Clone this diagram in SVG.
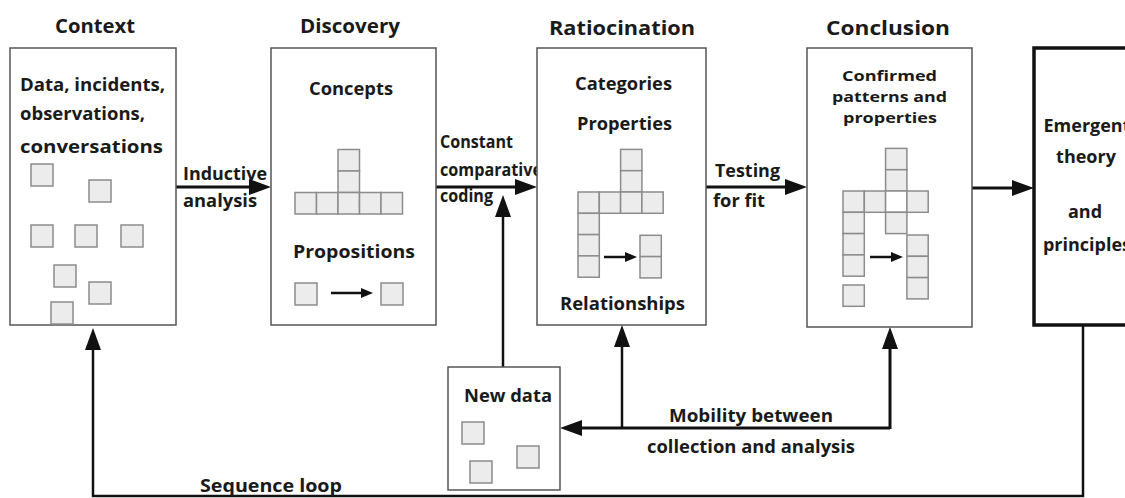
<svg xmlns="http://www.w3.org/2000/svg" width="1125" height="498" viewBox="0 0 1125 498">
<style>
.t{font-family:"Open Sans","Liberation Sans",sans-serif;font-weight:700;fill:#1a1a1a;font-size:18px}
.h{font-size:20px}
.s{font-size:15px}
.box{fill:#fff;stroke:#555;stroke-width:1.5}
.ebox{fill:#fff;stroke:#111;stroke-width:3.5}
.sq{fill:#ececec;stroke:#8c8c8c;stroke-width:1.5}
.sqw{fill:#fff;stroke:#8c8c8c;stroke-width:1.5}
.c{fill:none;stroke:#111;stroke-width:3}
.c2{fill:none;stroke:#111;stroke-width:2.5}
.cs{fill:none;stroke:#111;stroke-width:2.5}
</style>
<defs>
<marker id="arr" markerUnits="userSpaceOnUse" markerWidth="22" markerHeight="16" refX="12" refY="8" orient="auto"><path d="M0,0 L22,8 L0,16 Z" fill="#111"/></marker>
<marker id="sarr" markerUnits="userSpaceOnUse" markerWidth="12" markerHeight="10" refX="6" refY="5" orient="auto"><path d="M0,0 L12,5 L0,10 Z" fill="#111"/></marker>
</defs>
<rect width="1125" height="498" fill="#fff"/>

<g id="connectors">
<path class="c" d="M176,187 H261" marker-end="url(#arr)"/>
<path class="c" d="M436,187 H527" marker-end="url(#arr)"/>
<path class="c" d="M706,187 H797" marker-end="url(#arr)"/>
<path class="c" d="M972,188 H1024" marker-end="url(#arr)"/>
<path class="c2" d="M503,367 V205" marker-end="url(#arr)"/>
<path class="c" d="M890,428 H570" marker-end="url(#arr)"/>
<path class="c2" d="M622,428 V335" marker-end="url(#arr)"/>
<path class="c" d="M890,429 V337" marker-end="url(#arr)"/>
<path class="c2" d="M1083,325 V496 H93 V338" marker-end="url(#arr)"/>
<text class="t" x="183" y="180" textLength="84" lengthAdjust="spacingAndGlyphs">Inductive</text>
<text class="t" x="183" y="207" textLength="74" lengthAdjust="spacingAndGlyphs">analysis</text>
<text class="t" x="440" y="148" textLength="73" lengthAdjust="spacingAndGlyphs" style="font-size:17px">Constant</text>
<text class="t" x="440" y="176" textLength="102" lengthAdjust="spacingAndGlyphs" style="font-size:17px">comparative</text>
<text class="t" x="440" y="202" textLength="53" lengthAdjust="spacingAndGlyphs" style="font-size:17px">coding</text>
<text class="t" x="715" y="177" textLength="65" lengthAdjust="spacingAndGlyphs">Testing</text>
<text class="t" x="713" y="207" textLength="52" lengthAdjust="spacingAndGlyphs">for fit</text>
<text class="t" x="669" y="422" textLength="164" lengthAdjust="spacingAndGlyphs">Mobility between</text>
<text class="t" x="647" y="453" textLength="208" lengthAdjust="spacingAndGlyphs">collection and analysis</text>
<text class="t" x="200" y="492" textLength="142" lengthAdjust="spacingAndGlyphs">Sequence loop</text>
</g>

<g id="context">
<text class="t h" x="55" y="33" textLength="80" lengthAdjust="spacingAndGlyphs">Context</text>
<rect class="box" x="10" y="48" width="166" height="277"/>
<text class="t" x="20" y="91" textLength="145" lengthAdjust="spacingAndGlyphs">Data, incidents,</text>
<text class="t" x="20" y="120" textLength="125" lengthAdjust="spacingAndGlyphs">observations,</text>
<text class="t" x="20" y="153" textLength="143" lengthAdjust="spacingAndGlyphs">conversations</text>
<rect class="sq" x="31" y="164" width="22" height="22"/>
<rect class="sq" x="89" y="180" width="22" height="22"/>
<rect class="sq" x="31" y="225" width="22" height="22"/>
<rect class="sq" x="75" y="225" width="22" height="22"/>
<rect class="sq" x="121" y="225" width="22" height="22"/>
<rect class="sq" x="54" y="265" width="22" height="22"/>
<rect class="sq" x="89" y="282" width="22" height="22"/>
<rect class="sq" x="51" y="302" width="22" height="22"/>
</g>

<g id="discovery">
<text class="t h" x="300" y="33" textLength="100" lengthAdjust="spacingAndGlyphs">Discovery</text>
<rect class="box" x="271" y="48" width="165" height="277"/>
<text class="t" x="309" y="95" textLength="84" lengthAdjust="spacingAndGlyphs">Concepts</text>
<rect class="sq" x="338" y="149.5" width="21.5" height="21.5"/>
<rect class="sq" x="338" y="171" width="21.5" height="21.5"/>
<rect class="sq" x="295" y="192.5" width="21.5" height="21.5"/>
<rect class="sq" x="316.5" y="192.5" width="21.5" height="21.5"/>
<rect class="sq" x="338" y="192.5" width="21.5" height="21.5"/>
<rect class="sq" x="359.5" y="192.5" width="21.5" height="21.5"/>
<rect class="sq" x="381" y="192.5" width="21.5" height="21.5"/>
<text class="t" x="293" y="258" textLength="122" lengthAdjust="spacingAndGlyphs">Propositions</text>
<rect class="sq" x="295" y="283" width="22" height="22"/>
<rect class="sq" x="381" y="283" width="22" height="22"/>
<path class="cs" d="M331,293 H367" marker-end="url(#sarr)"/>
</g>

<g id="ratiocination">
<text class="t h" x="549" y="35" textLength="146" lengthAdjust="spacingAndGlyphs">Ratiocination</text>
<rect class="box" x="537" y="48" width="169" height="277"/>
<text class="t" x="575" y="90" textLength="97" lengthAdjust="spacingAndGlyphs">Categories</text>
<text class="t" x="577" y="130" textLength="95" lengthAdjust="spacingAndGlyphs">Properties</text>
<rect class="sq" x="620.6" y="149.4" width="21.3" height="21.3"/>
<rect class="sq" x="620.6" y="170.7" width="21.3" height="21.3"/>
<rect class="sq" x="578" y="192" width="21.3" height="21.3"/>
<rect class="sq" x="599.3" y="192" width="21.3" height="21.3"/>
<rect class="sq" x="620.6" y="192" width="21.3" height="21.3"/>
<rect class="sq" x="641.9" y="192" width="21.3" height="21.3"/>
<rect class="sq" x="578" y="213.3" width="21.3" height="21.3"/>
<rect class="sq" x="578" y="234.6" width="21.3" height="21.3"/>
<rect class="sq" x="578" y="255.9" width="21.3" height="21.3"/>
<rect class="sq" x="640" y="235.3" width="21.3" height="21.3"/>
<rect class="sq" x="640" y="256.6" width="21.3" height="21.3"/>
<path class="cs" d="M604,257 H631" marker-end="url(#sarr)"/>
<text class="t" x="560" y="310" textLength="125" lengthAdjust="spacingAndGlyphs">Relationships</text>
</g>

<g id="conclusion">
<text class="t h" x="826" y="35" textLength="124" lengthAdjust="spacingAndGlyphs">Conclusion</text>
<rect class="box" x="807" y="48" width="165" height="279"/>
<text class="t s" x="842" y="81" textLength="95" lengthAdjust="spacingAndGlyphs">Confirmed</text>
<text class="t s" x="832" y="102" textLength="115" lengthAdjust="spacingAndGlyphs">patterns and</text>
<text class="t s" x="843" y="123" textLength="94" lengthAdjust="spacingAndGlyphs">properties</text>
<rect class="sq" x="885.6" y="148.4" width="21.3" height="21.3"/>
<rect class="sq" x="885.6" y="169.7" width="21.3" height="21.3"/>
<rect class="sq" x="843" y="191" width="21.3" height="21.3"/>
<rect class="sq" x="864.3" y="191" width="21.3" height="21.3"/>
<rect class="sqw" x="885.6" y="191" width="21.3" height="21.3"/>
<rect class="sq" x="906.9" y="191" width="21.3" height="21.3"/>
<rect class="sq" x="885.6" y="212.3" width="21.3" height="21.3"/>
<rect class="sq" x="843" y="212.3" width="21.3" height="21.3"/>
<rect class="sq" x="843" y="233.6" width="21.3" height="21.3"/>
<rect class="sq" x="843" y="254.9" width="21.3" height="21.3"/>
<rect class="sq" x="843" y="285" width="21.3" height="21.3"/>
<rect class="sq" x="906.9" y="235" width="21.3" height="21.3"/>
<rect class="sq" x="906.9" y="256.3" width="21.3" height="21.3"/>
<rect class="sq" x="906.9" y="277.6" width="21.3" height="21.3"/>
<path class="cs" d="M870,257 H897" marker-end="url(#sarr)"/>
</g>

<g id="emergent">
<rect class="ebox" x="1034" y="48" width="200" height="277"/>
<text class="t" x="1087" y="132" text-anchor="middle">Emergent</text>
<text class="t" x="1086" y="163" text-anchor="middle">theory</text>
<text class="t" x="1085" y="218" text-anchor="middle">and</text>
<text class="t" x="1087" y="251" text-anchor="middle">principles</text>
</g>

<g id="newdata">
<rect class="box" x="448" y="367" width="112" height="123"/>
<text class="t" x="464" y="402" textLength="88" lengthAdjust="spacingAndGlyphs">New data</text>
<rect class="sq" x="462" y="422" width="22" height="22"/>
<rect class="sq" x="517" y="446" width="22" height="22"/>
<rect class="sq" x="470" y="461" width="22" height="22"/>
</g>
</svg>
